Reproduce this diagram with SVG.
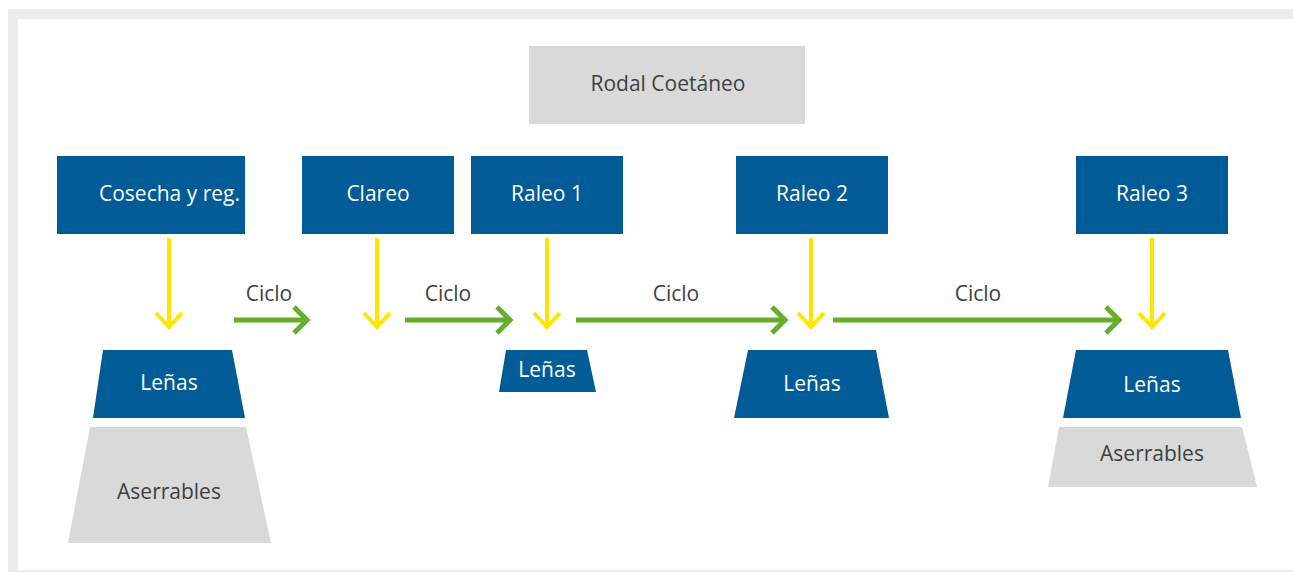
<svg xmlns="http://www.w3.org/2000/svg" width="1293" height="572" viewBox="0 0 1293 572">
  <defs>
    <style>
      .frame { fill: #ffffff; stroke: #ececec; stroke-width: 10; }
      .blue { fill: #005b96; }
      .grey { fill: #d9d9d9; }
      .t { font-family: "Open Sans", "Noto Sans", sans-serif; font-size: 21px; text-anchor: middle; dominant-baseline: central; }
      .tw { fill: #ffffff; }
      .td { fill: #3f3f3f; }
      .down { stroke: #ffe500; stroke-width: 4; fill: none; }
      .next { stroke: #65ae2c; stroke-width: 5; fill: none; }
    </style>
  </defs>

  <!-- background frame -->
  <rect x="13" y="14" width="1300" height="561" class="frame"/>

  <!-- top stand -->
  <g id="rodal">
    <rect x="529" y="46" width="276" height="78" class="grey"/>
    <text x="668" y="83" class="t td">Rodal Coetáneo</text>
  </g>

  <!-- interventions -->
  <g id="cosecha">
    <rect x="57" y="156" width="188" height="78" class="blue"/>
    <text x="169.5" y="193" class="t tw">Cosecha y reg.</text>
  </g>
  <g id="clareo">
    <rect x="302" y="156" width="152" height="78" class="blue"/>
    <text x="378" y="193" class="t tw">Clareo</text>
  </g>
  <g id="raleo1">
    <rect x="471" y="156" width="152" height="78" class="blue"/>
    <text x="547" y="193" class="t tw">Raleo 1</text>
  </g>
  <g id="raleo2">
    <rect x="736" y="156" width="152" height="78" class="blue"/>
    <text x="812" y="193" class="t tw">Raleo 2</text>
  </g>
  <g id="raleo3">
    <rect x="1076" y="156" width="152" height="78" class="blue"/>
    <text x="1152" y="193" class="t tw">Raleo 3</text>
  </g>

  <!-- products -->
  <g id="lenas1">
    <polygon points="103,350 232,350 245,418 93,418" class="blue"/>
    <text x="169" y="382" class="t tw">Leñas</text>
  </g>
  <g id="aserrables1">
    <polygon points="90,427 246,427 271,543 68,543" class="grey"/>
    <text x="169" y="491" class="t td">Aserrables</text>
  </g>
  <g id="lenas2">
    <polygon points="506,350 587,350 596,392 499,392" class="blue"/>
    <text x="547" y="369" class="t tw">Leñas</text>
  </g>
  <g id="lenas3">
    <polygon points="748,350 876,350 889,418 734,418" class="blue"/>
    <text x="812" y="383" class="t tw">Leñas</text>
  </g>
  <g id="lenas4">
    <polygon points="1076,350 1228,350 1241,418 1063,418" class="blue"/>
    <text x="1152" y="384" class="t tw">Leñas</text>
  </g>
  <g id="aserrables4">
    <polygon points="1059,427 1242,427 1257,487 1048,487" class="grey"/>
    <text x="1152" y="453" class="t td">Aserrables</text>
  </g>

  <!-- connectors -->
  <g id="connectors">
    <!-- yield arrows -->
    <path class="down" d="M169,238 V327 M156,313 L169,327 L182,313"/>
    <path class="down" d="M377,238 V327 M364,313 L377,327 L390,313"/>
    <path class="down" d="M547,238 V327 M534,313 L547,327 L560,313"/>
    <path class="down" d="M811,238 V327 M798,313 L811,327 L824,313"/>
    <path class="down" d="M1152,238 V327 M1139,313 L1152,327 L1165,313"/>
    <!-- cycle arrows -->
    <path class="next" d="M234,320 H307 M294,307 L307,320 L294,333"/>
    <path class="next" d="M405,320 H510 M497,307 L510,320 L497,333"/>
    <path class="next" d="M576,320 H785 M772,307 L785,320 L772,333"/>
    <path class="next" d="M833,320 H1119 M1106,307 L1119,320 L1106,333"/>
    <text x="269" y="293" class="t td">Ciclo</text>
    <text x="448" y="293" class="t td">Ciclo</text>
    <text x="676" y="293" class="t td">Ciclo</text>
    <text x="978" y="293" class="t td">Ciclo</text>
  </g>
</svg>
